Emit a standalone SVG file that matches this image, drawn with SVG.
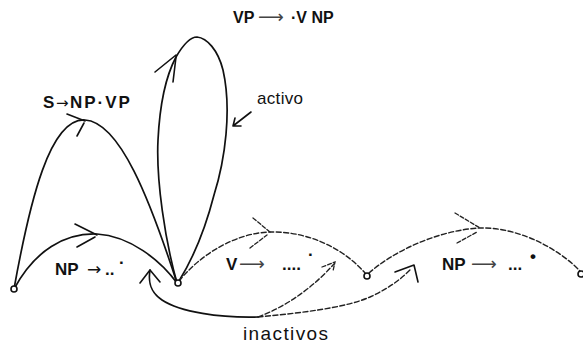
<svg xmlns="http://www.w3.org/2000/svg" width="583" height="347" viewBox="0 0 583 347">
<style>
.bg{fill:#fff}
.solid{fill:none;stroke:#111;stroke-width:1.7;stroke-linecap:round;stroke-linejoin:round}
.dash{fill:none;stroke:#222;stroke-width:1.4;stroke-dasharray:5 2.5;stroke-linecap:round}
.head{fill:none;stroke:#111;stroke-width:1.6;stroke-linecap:round;stroke-linejoin:round}
.dhead{fill:none;stroke:#222;stroke-width:1.3;stroke-dasharray:4 2;stroke-linecap:round}
.node{fill:#fff;stroke:#111;stroke-width:1.6}
.lbl{font-family:"Liberation Sans",Arial,sans-serif;font-weight:bold;fill:#111}
.word{font-family:"Liberation Sans",Arial,sans-serif;fill:#111}
.arr{font-family:"DejaVu Sans",sans-serif;font-weight:normal}
</style>
<rect class="bg" x="0" y="0" width="583" height="347"/>
<g id="connectors">
  <path class="solid" d="M14,289 C30,200 50,118 85,120 C120,122 150,200 177,283"/>
  <path class="head" d="M67,114 L85,121 M77,136 L84,123"/>
  <path class="solid" d="M177,283 C165,240 156,180 158,140 C160,100 168,72 176,57 C183,45 190,37 197,37 C207,38 218,50 223,70 C232,110 225,160 214,195 C205,230 192,260 179,281"/>
  <path class="head" d="M155,72 L176,55 M173,82 L176,57"/>
  <path class="head" d="M251,112 L233,126 M233,126 L241,126 M233,126 L235,118"/>
  <path class="solid" d="M14,289 C35,250 65,233 97,234 C130,236 160,260 177,283"/>
  <path class="head" d="M75,224 L97,235 M77,247 L95,237"/>
  <path class="solid" d="M258,317 C220,318 180,312 162,300 C150,292 148,282 150,270"/>
  <path class="head" d="M140,283 L150,270 L160,282"/>
  <path class="dash" d="M179,281 C200,255 235,233 270,232 C310,231 345,250 365,273"/>
  <path class="dhead" d="M253,218 L270,232 M250,248 L267,235"/>
  <path class="dash" d="M258,317 C290,305 315,285 334,264"/>
  <path class="dhead" d="M322,267 L335,262 L333,271"/>
  <path class="dash" d="M258,317 C300,313 345,308 370,297 C385,290 398,282 410,270"/>
  <path class="head" d="M395,272 L414,265 L418,282"/>
  <path class="dash" d="M369,273 C395,250 440,230 480,228 C520,227 560,250 580,271"/>
  <path class="dhead" d="M455,213 L480,228 M457,243 L477,232"/>
</g>
<g id="n0"><circle class="node" cx="14" cy="289" r="3"/></g>
<g id="n1"><circle class="node" cx="178" cy="283" r="3"/></g>
<g id="n2"><circle class="node" cx="367" cy="276" r="3"/></g>
<g id="n3"><circle class="node" cx="581" cy="274" r="3"/></g>
<g id="labels">
  <text class="lbl" y="108" font-size="17"><tspan x="43">S</tspan><tspan class="arr" x="56" font-size="15">→</tspan><tspan x="70" letter-spacing="2">NP·VP</tspan></text>
  <text class="lbl" y="23" font-size="16"><tspan x="233">VP</tspan><tspan class="arr" x="258" font-size="18" fill="#444">⟶</tspan><tspan x="291">·V NP</tspan></text>
  <text class="word" x="257" y="104" font-size="17" textLength="46">activo</text>
  <text class="lbl" y="275" font-size="17"><tspan x="55">NP</tspan><tspan class="arr" x="87" font-size="17">→</tspan><tspan x="105">..</tspan><tspan x="119" dy="-7">·</tspan></text>
  <text class="lbl" y="270" font-size="17"><tspan x="226">V</tspan><tspan class="arr" x="239" font-size="18" fill="#444">⟶</tspan><tspan x="282">....</tspan><tspan x="308" dy="-10">·</tspan></text>
  <text class="lbl" y="270" font-size="17"><tspan x="442">NP</tspan><tspan class="arr" x="471" font-size="18" fill="#444">⟶</tspan><tspan x="508">...</tspan><tspan x="530" dy="-8">•</tspan></text>
  <text class="word" x="243" y="340" font-size="19" textLength="85">inactivos</text>
</g>
</svg>
